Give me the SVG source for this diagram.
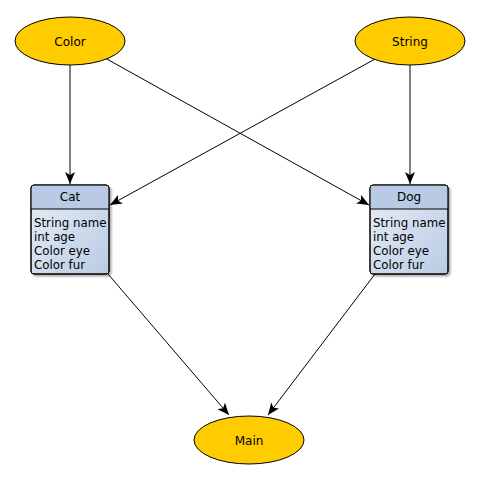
<svg xmlns="http://www.w3.org/2000/svg" width="479" height="481" viewBox="0 0 479 481">
  <style>
    .ell { fill: #ffcc00; stroke: #000; stroke-width: 1; }
    .lbl { font-family: "DejaVu Sans", sans-serif; font-size: 12px; fill: #000; text-anchor: middle; }
    .cls { fill: url(#clsFill); stroke: #000; stroke-width: 1; }
    .hdr { fill: #b9cbe4; }
    .attr { font-family: "DejaVu Sans", sans-serif; font-size: 11.8px; fill: #000; }
    .edge { stroke: #000; stroke-width: 1; fill: none; marker-end: url(#arrow); }
  </style>
  <defs>
    <linearGradient id="clsFill" x1="0" y1="0" x2="1" y2="1">
      <stop offset="0" stop-color="#e8eef7"/>
      <stop offset="1" stop-color="#b9cbe4"/>
    </linearGradient>
    <filter id="shadow" x="-10%" y="-10%" width="130%" height="130%">
      <feGaussianBlur in="SourceAlpha" stdDeviation="1.2"/>
      <feOffset dx="2" dy="2" result="b"/>
      <feComponentTransfer><feFuncA type="linear" slope="0.35"/></feComponentTransfer>
      <feMerge><feMergeNode/><feMergeNode in="SourceGraphic"/></feMerge>
    </filter>
    <marker id="arrow" viewBox="0 0 12 10" refX="12" refY="5" markerWidth="12" markerHeight="10" markerUnits="userSpaceOnUse" orient="auto">
      <path d="M0,0 L12,5 L0,10 L3,5 Z" fill="#000"/>
    </marker>
  </defs>

  <g id="connectors">
    <line class="edge" x1="70" y1="65" x2="70" y2="184"/>
    <line class="edge" x1="105" y1="58" x2="369" y2="205"/>
    <line class="edge" x1="375" y1="59" x2="110" y2="205"/>
    <line class="edge" x1="410" y1="65" x2="410" y2="184"/>
    <line class="edge" x1="108" y1="274" x2="229" y2="415"/>
    <line class="edge" x1="375" y1="274" x2="268" y2="415"/>
  </g>

  <g id="color">
    <ellipse class="ell" cx="70" cy="41" rx="55" ry="24"/>
    <text class="lbl" x="70" y="45.5">Color</text>
  </g>

  <g id="string">
    <ellipse class="ell" cx="410" cy="41" rx="55" ry="24"/>
    <text class="lbl" x="410" y="45.5">String</text>
  </g>

  <g id="cat">
    <g filter="url(#shadow)">
      <rect class="cls" x="31" y="185" width="78" height="89" rx="3"/>
    </g>
    <path class="hdr" d="M34,185.5 H106 A2.5,2.5 0 0 1 108.5,188 V209 H31.5 V188 A2.5,2.5 0 0 1 34,185.5 Z"/>
    <rect x="31" y="185" width="78" height="89" rx="3" fill="none" stroke="#000"/>
    <line x1="31" y1="209" x2="109" y2="209" stroke="#000"/>
    <text class="lbl" x="70" y="201">Cat</text>
    <text class="attr" x="34" y="227">String name</text>
    <text class="attr" x="34" y="241">int age</text>
    <text class="attr" x="34" y="255">Color eye</text>
    <text class="attr" x="34" y="269">Color fur</text>
  </g>

  <g id="dog">
    <g filter="url(#shadow)">
      <rect class="cls" x="370" y="185" width="78" height="89" rx="3"/>
    </g>
    <path class="hdr" d="M373,185.5 H445 A2.5,2.5 0 0 1 447.5,188 V209 H370.5 V188 A2.5,2.5 0 0 1 373,185.5 Z"/>
    <rect x="370" y="185" width="78" height="89" rx="3" fill="none" stroke="#000"/>
    <line x1="370" y1="209" x2="448" y2="209" stroke="#000"/>
    <text class="lbl" x="409" y="201">Dog</text>
    <text class="attr" x="373" y="227">String name</text>
    <text class="attr" x="373" y="241">int age</text>
    <text class="attr" x="373" y="255">Color eye</text>
    <text class="attr" x="373" y="269">Color fur</text>
  </g>

  <g id="main">
    <ellipse class="ell" cx="249" cy="440" rx="55" ry="24"/>
    <text class="lbl" x="249" y="444.5">Main</text>
  </g>
</svg>
